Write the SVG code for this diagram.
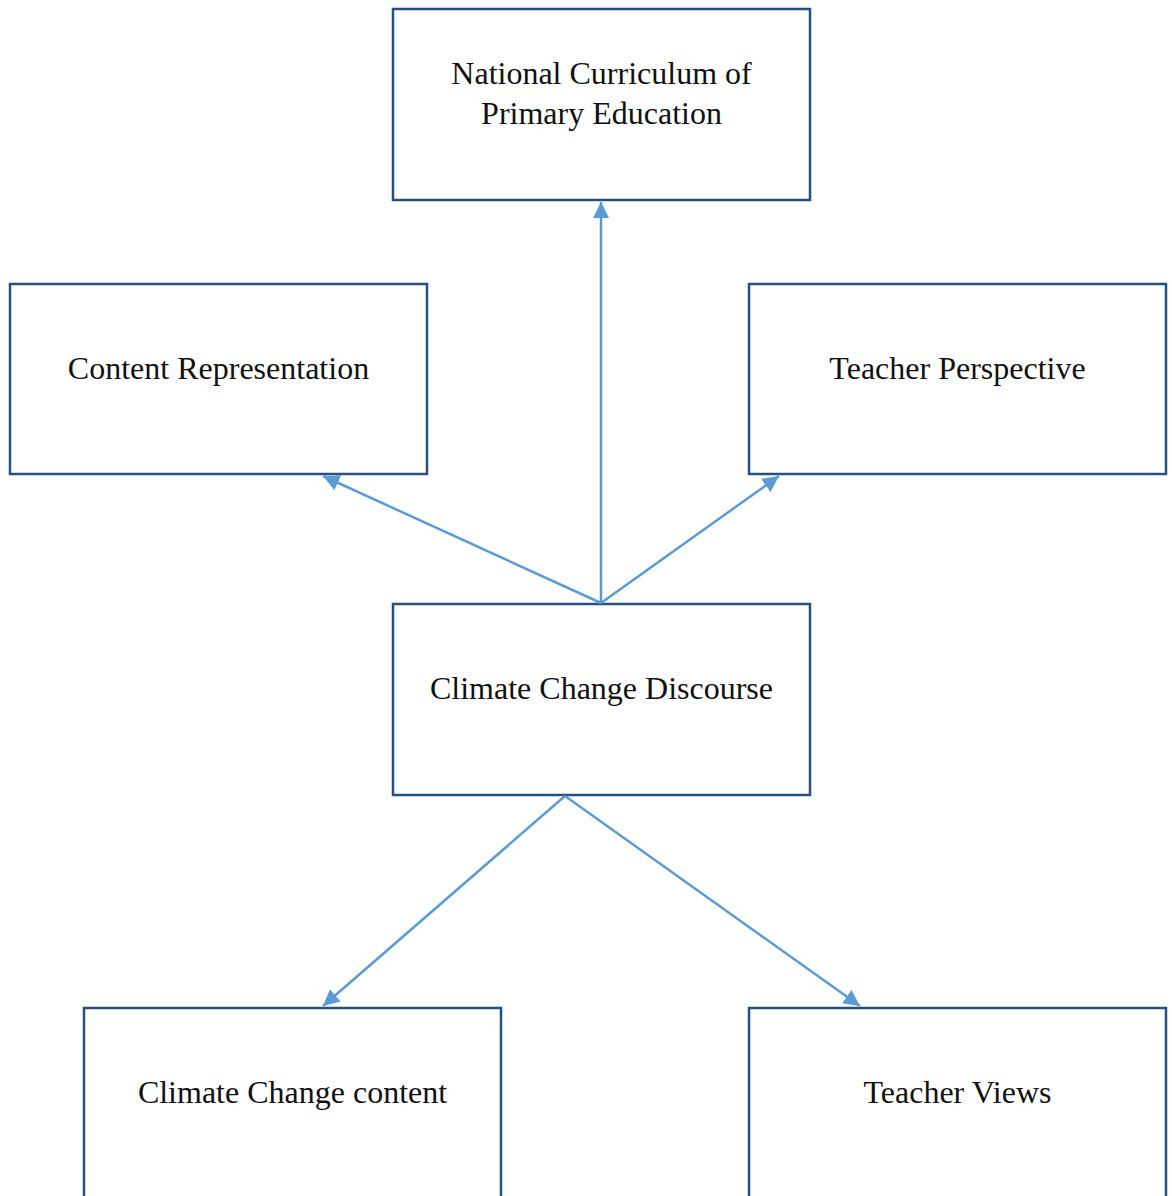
<svg xmlns="http://www.w3.org/2000/svg" width="1172" height="1196" viewBox="0 0 1172 1196">
<style>
.box{fill:#fff;stroke:#25507F;stroke-width:2.5}
.lbl{font-family:"Liberation Serif","Times New Roman",serif;font-size:32px;fill:#111;text-anchor:middle}
.con{stroke:#5B9BD5;stroke-width:2.5;fill:none;marker-end:url(#ah)}
</style>
<defs>
<marker id="ah" viewBox="0 0 10 10" refX="10" refY="5" markerWidth="6.5" markerHeight="6.5" markerUnits="strokeWidth" orient="auto">
<path d="M0,0 L10,5 L0,10 z" fill="#5B9BD5"/>
</marker>
</defs>
<rect width="1172" height="1196" fill="#fff"/>
<g id="n-national">
<rect class="box" x="393" y="9" width="417" height="191"/>
<text class="lbl" x="601.5" y="84">National Curriculum of</text>
<text class="lbl" x="601.5" y="124">Primary Education</text>
</g>
<g id="n-content-rep">
<rect class="box" x="10" y="284" width="417" height="190"/>
<text class="lbl" x="218.5" y="379">Content Representation</text>
</g>
<g id="n-teacher-persp">
<rect class="box" x="749" y="284" width="417" height="190"/>
<text class="lbl" x="957.5" y="379">Teacher Perspective</text>
</g>
<g id="n-discourse">
<rect class="box" x="393" y="604" width="417" height="191"/>
<text class="lbl" x="601.5" y="699">Climate Change Discourse</text>
</g>
<g id="n-cc-content">
<rect class="box" x="84" y="1008" width="417" height="220"/>
<text class="lbl" x="292.5" y="1103">Climate Change content</text>
</g>
<g id="n-teacher-views">
<rect class="box" x="749" y="1008" width="417" height="220"/>
<text class="lbl" x="957.5" y="1103">Teacher Views</text>
</g>
<g id="connectors">
<line class="con" x1="601" y1="603" x2="601" y2="202"/>
<line class="con" x1="601" y1="603" x2="323" y2="476"/>
<line class="con" x1="601" y1="603" x2="779" y2="476"/>
<line class="con" x1="565" y1="796" x2="323" y2="1006"/>
<line class="con" x1="565" y1="796" x2="860" y2="1006"/>
</g>
</svg>
